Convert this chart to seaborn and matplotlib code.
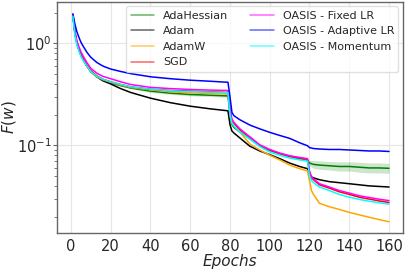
import matplotlib
matplotlib.use("Agg")
import matplotlib.pyplot as plt
import numpy as np
import pandas as pd
import seaborn as sns

epochs = [1, 2, 3, 4, 5, 6, 8, 10, 13, 16, 20, 25, 30, 40, 50, 60, 70, 79,
          80, 81, 82, 85, 90, 95, 100, 105, 110, 115, 119,
          120, 121, 122, 125, 130, 135, 140, 145, 150, 155, 160]

adahessian = [1.9, 1.25, 1.0, 0.86, 0.77, 0.7, 0.6, 0.53, 0.47, 0.44, 0.41, 0.385, 0.365, 0.34, 0.325, 0.315, 0.31, 0.305,
              0.2, 0.16, 0.15, 0.135, 0.117, 0.1, 0.089, 0.083, 0.078, 0.074, 0.071,
              0.067, 0.066, 0.065, 0.064, 0.063, 0.062, 0.062, 0.061, 0.06, 0.06, 0.0595]
adahessian_spread = [0.0] * 8 + [0.01] * 5 + [0.03] * 16 + [0.06, 0.08, 0.09, 0.1, 0.1, 0.11, 0.11, 0.12, 0.12, 0.12, 0.12]
adam = [1.9, 1.28, 1.02, 0.88, 0.78, 0.71, 0.6, 0.53, 0.47, 0.43, 0.4, 0.36, 0.33, 0.29, 0.262, 0.242, 0.228, 0.218,
        0.16, 0.138, 0.132, 0.118, 0.098, 0.088, 0.081, 0.074, 0.067, 0.062, 0.059,
        0.052, 0.049, 0.048, 0.046, 0.044, 0.043, 0.042, 0.041, 0.040, 0.0395, 0.039]
adamw = [1.9, 1.25, 1.0, 0.86, 0.77, 0.7, 0.6, 0.53, 0.47, 0.44, 0.415, 0.39, 0.37, 0.35, 0.335, 0.327, 0.322, 0.318,
         0.21, 0.165, 0.155, 0.135, 0.103, 0.09, 0.08, 0.072, 0.064, 0.059, 0.056,
         0.045, 0.036, 0.033, 0.027, 0.025, 0.0235, 0.022, 0.0208, 0.0197, 0.0187, 0.0178]
sgd = [1.9, 1.27, 1.02, 0.88, 0.78, 0.71, 0.61, 0.54, 0.48, 0.445, 0.42, 0.395, 0.375, 0.355, 0.345, 0.34, 0.335, 0.33,
       0.22, 0.175, 0.165, 0.142, 0.12, 0.1, 0.09, 0.083, 0.078, 0.075, 0.073,
       0.055, 0.048, 0.046, 0.041, 0.038, 0.035, 0.033, 0.031, 0.0297, 0.0285, 0.0275]
oasis_fixed = [1.9, 1.3, 1.06, 0.93, 0.83, 0.76, 0.65, 0.57, 0.51, 0.475, 0.45, 0.42, 0.395, 0.37, 0.36, 0.353, 0.348, 0.345,
               0.225, 0.18, 0.168, 0.145, 0.121, 0.101, 0.091, 0.084, 0.079, 0.076, 0.074,
               0.056, 0.049, 0.047, 0.042, 0.039, 0.036, 0.034, 0.032, 0.0308, 0.0296, 0.0287]
oasis_adaptive = [1.95, 1.55, 1.3, 1.15, 1.03, 0.95, 0.82, 0.73, 0.65, 0.6, 0.56, 0.53, 0.505, 0.47, 0.45, 0.435, 0.425, 0.415,
                  0.3, 0.21, 0.195, 0.178, 0.158, 0.145, 0.134, 0.125, 0.117, 0.106, 0.099,
                  0.095, 0.094, 0.093, 0.092, 0.091, 0.091, 0.09, 0.089, 0.088, 0.088, 0.087]
oasis_momentum = [1.85, 1.2, 0.97, 0.84, 0.75, 0.69, 0.6, 0.53, 0.475, 0.445, 0.42, 0.395, 0.375, 0.355, 0.343, 0.336, 0.332, 0.328,
                  0.2, 0.165, 0.155, 0.135, 0.115, 0.097, 0.086, 0.08, 0.075, 0.072, 0.07,
                  0.05, 0.045, 0.043, 0.039, 0.036, 0.033, 0.031, 0.0295, 0.0283, 0.0273, 0.0265]

methods = ["AdaHessian", "Adam", "AdamW", "SGD",
           "OASIS - Fixed LR", "OASIS - Adaptive LR", "OASIS - Momentum"]
colors = ["green", "black", "orange", "red", "magenta", "blue", "cyan"]
series = [adahessian, adam, adamw, sgd, oasis_fixed, oasis_adaptive, oasis_momentum]

df = pd.concat(
    [pd.DataFrame({"epoch": epochs, "loss": vals, "method": name}) for name, vals in zip(methods, series)],
    ignore_index=True,
)

sns.set_theme(style="whitegrid")
fig, ax = plt.subplots(figsize=(4.07, 2.70), dpi=100)
fig.subplots_adjust(left=0.14, right=0.99, bottom=0.137, top=0.993)

g = np.array(adahessian)
s = np.array(adahessian_spread)
ax.fill_between(epochs, g / (1 + s), g * (1 + s), color="green", alpha=0.2, lw=0)

sns.lineplot(data=df, x="epoch", y="loss", hue="method", hue_order=methods,
             palette=dict(zip(methods, colors)), lw=1.1, ax=ax, legend=False)

ax.set_yscale("log")
ax.set_ylim(0.0138, 2.55)
ax.set_xlim(-7, 167)
ax.set_xticks(range(0, 161, 20))
ax.set_xlabel("Epochs", fontsize=11, style="italic", labelpad=0)
ax.set_ylabel("$F(w)$", fontsize=11)
ax.yaxis.set_label_coords(-0.112, 0.5)
ax.tick_params(axis="both", labelsize=10.5)
ax.tick_params(axis="x", which="both", length=0, pad=4)
ax.tick_params(axis="y", which="both", left=True, direction="out", color="0.4", pad=0.8)
ax.tick_params(axis="y", which="major", length=3, width=0.8)
ax.tick_params(axis="y", which="minor", length=2, width=0.6)
ax.grid(True, which="major", color="0.9", lw=0.8)
ax.grid(False, which="minor")
for sp in ax.spines.values():
    sp.set_color("0.4")
    sp.set_linewidth(1.0)

handles = [plt.Line2D([], [], color=c, lw=1.1, alpha=0.6) for c in colors]
ax.legend(handles, methods, ncol=2, loc="upper right", fontsize=8,
          handlelength=2.1, handletextpad=0.8, columnspacing=2.0, labelspacing=0.5,
          borderaxespad=0.4, frameon=True, edgecolor="0.85")

fig.savefig("out.png", dpi=100)
plt.close(fig)
